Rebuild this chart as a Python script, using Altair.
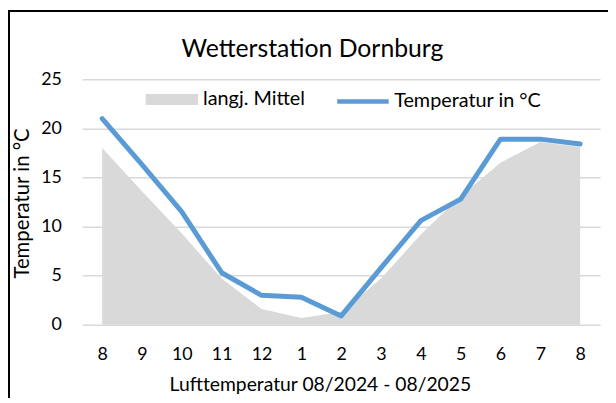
import json
import altair as alt
import pandas as pd

# ---- data ----
month_labels = ["8", "9", "10", "11", "12", "1", "2", "3", "4", "5", "6", "7", "8"]
temperatur = [21.0, 16.3, 11.5, 5.3, 3.0, 2.8, 0.9, 5.8, 10.6, 12.8, 18.9, 18.9, 18.4]
langj_mittel = [18.0, 13.6, 9.3, 4.7, 1.6, 0.7, 1.3, 4.7, 9.2, 13.1, 16.5, 18.6, 18.1]
y_ticks = [0, 5, 10, 15, 20, 25]

series_area = "langj. Mittel"
series_line = "Temperatur in °C"

df = pd.DataFrame({
    "idx": list(range(len(month_labels))),
    "monat": month_labels,
    "temp": temperatur,
    "mittel": langj_mittel,
    "s_area": [series_area] * len(month_labels),
    "s_line": [series_line] * len(month_labels),
})

FONT = "Lato, sans-serif"
GRID = "#d9d9d9"
BLUE = "#5b9bd5"
NUM = 18

label_expr = json.dumps(month_labels) + "[datum.value]"

x_enc = alt.X(
    "idx:Q",
    scale=alt.Scale(domain=[-0.5, len(month_labels) - 0.5], nice=False, zero=False),
    axis=alt.Axis(
        values=list(range(len(month_labels))),
        labelExpr=label_expr,
        title="Lufttemperatur 08/2024 - 08/2025",
        grid=False, domain=False, ticks=False,
        labelPadding=21, labelFontSize=NUM, labelFont=FONT, labelColor="#000000",
        titleFont=FONT, titleFontSize=19.5, titleFontWeight="normal", titleColor="#000000",
        titleX=240, titleY=66, titleBaseline="alphabetic", titleAnchor="middle",
    ),
)

y_axis = alt.Axis(
    values=y_ticks,
    title="Temperatur in °C",
    grid=True, gridColor=GRID, gridWidth=1.5,
    domain=False, ticks=False,
    labelPadding=21, labelFontSize=NUM, labelFont=FONT, labelColor="#000000",
    titleFont=FONT, titleFontSize=20.5, titleFontWeight="normal", titleColor="#000000",
    titleX=-60, titleY=125, titleBaseline="middle", titleAlign="center", titleAngle=-90,
)

area = alt.Chart(df).mark_area(opacity=1).encode(
    x=x_enc,
    y=alt.Y("mittel:Q", scale=alt.Scale(domain=[0, 25], nice=False), axis=y_axis),
    fill=alt.Fill(
        "s_area:N",
        scale=alt.Scale(domain=[series_area], range=[GRID]),
        legend=alt.Legend(
            title=None, orient="none", legendX=64, legendY=-6, padding=0,
            symbolType="M-1,-0.21H1V0.21H-1Z", symbolSize=2809, symbolStrokeWidth=0,
            symbolOpacity=1,
            labelFont=FONT, labelFontSize=20, labelColor="#000000", labelOffset=5,
        ),
    ),
)

line = alt.Chart(df).mark_line(strokeWidth=5, strokeCap="round", strokeJoin="round").encode(
    x=alt.X("idx:Q"),
    y=alt.Y("temp:Q"),
    stroke=alt.Stroke(
        "s_line:N",
        scale=alt.Scale(domain=[series_line], range=[BLUE]),
        legend=alt.Legend(
            title=None, orient="none", legendX=255, legendY=-6, padding=0,
            symbolType="stroke", symbolSize=2704, symbolStrokeWidth=4.5,
            labelFont=FONT, labelFontSize=20, labelColor="#000000", labelOffset=3,
        ),
    ),
)

frame = alt.Chart(pd.DataFrame({"f": [0]})).mark_rect(
    fill=None, stroke="#000000", strokeWidth=2
).encode(
    x=alt.value(-74), y=alt.value(-69), x2=alt.value(800), y2=alt.value(600)
)

chart = alt.layer(area, line, frame).resolve_scale(
    fill="independent", stroke="independent"
).properties(
    width=523,
    height=248,
    padding={"left": 75, "top": 70, "right": 8, "bottom": 72},
    autosize=alt.AutoSizeParams(type="none"),
    title=alt.TitleParams(
        "Wetterstation Dornburg", font=FONT, fontSize=25, fontWeight="normal",
        color="#000000", anchor="middle", dx=-29, dy=70, offset=17,
    ),
).configure_view(stroke=None)

chart.save("out.html", embed_options={"renderer": "svg", "actions": False})
